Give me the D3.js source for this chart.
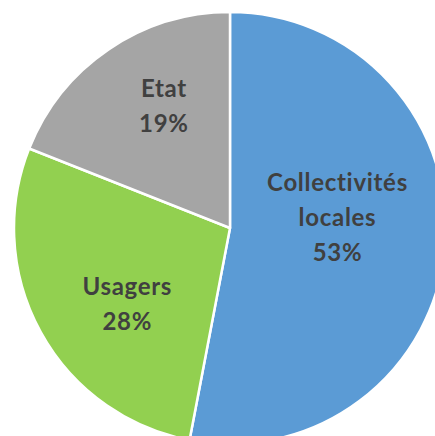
<!DOCTYPE html>
<html>
<head>
<meta charset="utf-8">
<script src="https://cdn.jsdelivr.net/npm/d3@7"></script>
<style>
  html, body { margin: 0; padding: 0; background: #fff; overflow: hidden; }
  text { font-variant-ligatures: none; }
</style>
</head>
<body>
<div id="chart"></div>
<script>
(function (d3) {
    'use strict';

    var categories = ['Collectivités locales', 'Usagers', 'Etat'];
    var values = [53, 28, 19];
    var labelLines = [['Collectivités', 'locales', '53%'], ['Usagers', '28%'], ['Etat', '19%']];
    var colors = ['#5B9BD5', '#92D050', '#A5A5A5'];

    // label placement (degrees clockwise from top, distance from centre), like Excel's best fit
    var labelPlace = [[84.4, 108], [233.4, 128], [331.6, 139]];

    var width = 435, height = 436,
        cx = 230, cy = 228, radius = 216,
        lineHeight = 35, capHalf = 8.5;

    var svg = d3.select('#chart').append('svg')
        .attr('width', width)
        .attr('height', height);

    var g = svg.append('g')
        .attr('transform', 'translate(' + cx + ',' + cy + ')');

    var pie = d3.pie().sort(null).value(function (d) { return d; });
    var arc = d3.arc().innerRadius(0).outerRadius(radius);
    var arcs = pie(values);

    g.selectAll('path')
        .data(arcs)
        .enter().append('path')
        .attr('d', arc)
        .attr('fill', function (d, i) { return colors[i]; })
        .attr('stroke', '#fff')
        .attr('stroke-width', 2.5)
        .attr('stroke-linejoin', 'round');

    var labels = g.selectAll('text')
        .data(arcs)
        .enter().append('text')
        .attr('text-anchor', 'middle')
        .attr('font-family', 'Lato, "Open Sans", sans-serif')
        .attr('font-weight', 'bold')
        .attr('font-size', '24px')
        .attr('letter-spacing', '0.7px')
        .attr('fill', '#404040')
        .attr('aria-label', function (d, i) { return categories[i] + ' ' + values[i] + '%'; });

    labels.each(function (d, i) {
        var a = labelPlace[i][0] * Math.PI / 180,
            r = labelPlace[i][1],
            x = r * Math.sin(a),
            y = -r * Math.cos(a),
            lines = labelLines[i],
            n = lines.length;
        d3.select(this).selectAll('tspan')
            .data(lines)
            .enter().append('tspan')
            .attr('x', x)
            .attr('y', function (t, j) { return y + capHalf + (j - (n - 1) / 2) * lineHeight; })
            .text(function (t) { return t; });
    });
})(d3);
</script>
</body>
</html>
